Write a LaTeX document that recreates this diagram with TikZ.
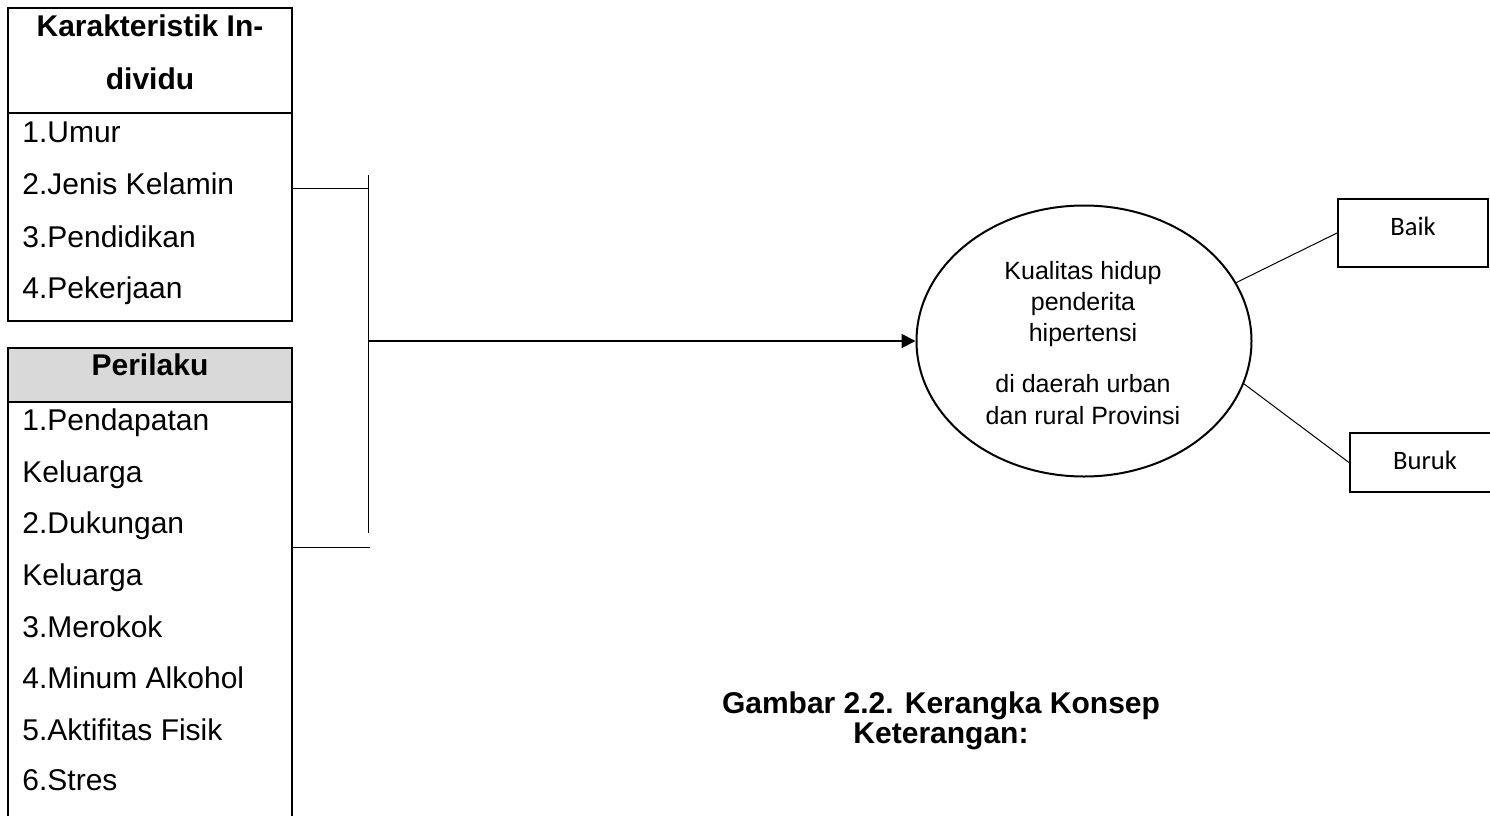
\documentclass[tikz,border=0pt]{standalone}
\usepackage{fontspec}
\setmainfont{Liberation Sans}
\newfontfamily\calibri{Carlito}
\usetikzlibrary{calc}
\usetikzlibrary{shapes,arrows.meta}
\tikzset{mbox/.style={draw,line width=1pt}}
\tikzset{mhead/.style={anchor=base,inner sep=0pt,font=\fontsize{15}{18}\selectfont\bfseries}}
\tikzset{mitem/.style={anchor=base west,inner sep=0pt,font=\fontsize{15}{18}\selectfont}}
\tikzset{mtext/.style={anchor=base,inner sep=0pt,font=\fontsize{12.5}{15}\selectfont}}
\tikzset{mout/.style={draw,line width=1pt,inner sep=0pt}}
\tikzset{mlabel/.style={anchor=base,inner sep=0pt,font=\calibri\fontsize{13.3}{16}\selectfont}}
\tikzset{mlink/.style={line width=0.5pt}}

\begin{document}
\begin{tikzpicture}[x=0.5pt,y=-0.5pt]
\useasboundingbox (0,0) rectangle (1490,815);

% Karakteristik Individu
\draw[mbox] (8,8) rectangle (292,321);
\draw[mbox] (8,113) -- (292,113);
\node[mhead] (kar1) at (150,36) {Karakteristik In-};
\node[mhead] (kar2) at (150,89) {dividu};
\node[mitem] (umur) at (22,142) {1.Umur};
\node[mitem] (jenis) at (22,194) {2.Jenis Kelamin};
\node[mitem] (didik) at (22,247) {3.Pendidikan};
\node[mitem] (kerja) at (22,298) {4.Pekerjaan};

% Perilaku
\fill[gray!30] (8,348) rectangle (292,402);
\draw[mbox] (8,830) -- (8,348) -- (292,348) -- (292,830);
\draw[mbox] (8,402) -- (292,402);
\node[mhead] (peri) at (150,375) {Perilaku};
\node[mitem] (dapat1) at (22,430) {1.Pendapatan};
\node[mitem] (dapat2) at (22,482) {Keluarga};
\node[mitem] (dukung1) at (22,533) {2.Dukungan};
\node[mitem] (dukung2) at (22,585) {Keluarga};
\node[mitem] (rokok) at (22,637) {3.Merokok};
\node[mitem] (alkohol) at (22,688) {4.Minum Alkohol};
\node[mitem] (fisik) at (22,740) {5.Aktifitas Fisik};
\node[mitem] (stres) at (22,790) {6.Stres};

% Kualitas hidup
\node[draw,ellipse,line width=1pt,inner sep=0pt,minimum width=167.5pt,minimum height=135.5pt] (kual) at (1084,341) {};
\node[mtext] (kt1) at (1083,279) {Kualitas hidup};
\node[mtext] (kt2) at (1083,310) {penderita};
\node[mtext] (kt3) at (1083,341) {hipertensi};
\node[mtext] (kt4) at (1083,392) {di daerah urban};
\node[mtext] (kt5) at (1083,424) {dan rural Provinsi};

% Baik / Buruk
\node[mout,minimum width=75pt,minimum height=34pt] (baik) at (1413,233) {};
\node[mlabel] (baiktxt) at (1413,235) {Baik};
\node[mout,minimum width=75pt,minimum height=29.5pt] (buruk) at (1425,462.5) {};
\node[mlabel] (buruktxt) at (1425,469) {Buruk};

% connectors
\coordinate (bartop) at (368,175);
\coordinate (barbot) at (368,533);
\coordinate (k2) at (292,188);
\coordinate (p2) at (292,547);
\draw[mlink] (bartop) -- (barbot);
\draw[mlink] (k2) -- (k2 -| bartop);
\draw[mlink] (p2) -- ($(p2 -| bartop)+(2,0)$);
\draw[line width=1pt,-{Triangle[length=7pt,width=7pt]}] (bartop |- kual.west) -- (kual.west);
\draw[mlink] (kual.21) -- (baik.west);
\draw[mlink] (kual.-15) -- (buruk.west);

% caption
\node[mhead] (gambar) at (941,713) {Gambar 2.2. Kerangka Konsep};
\node[mhead] (ket) at (941,743) {Keterangan:};
\end{tikzpicture}
\end{document}
